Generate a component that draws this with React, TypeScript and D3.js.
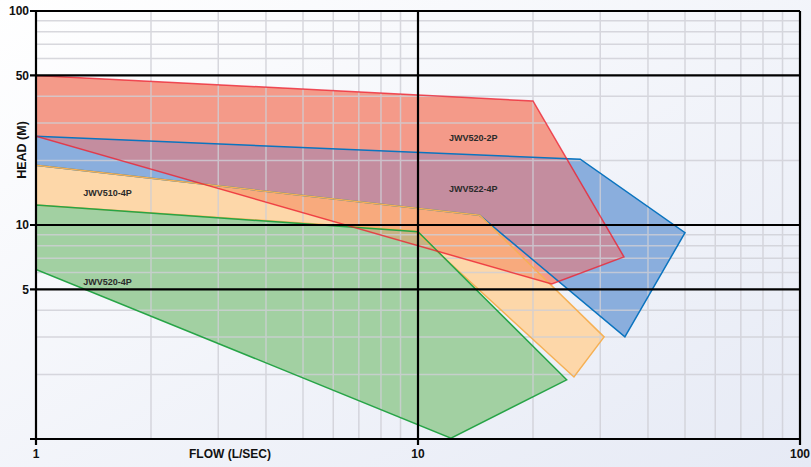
import React from "react";
import { scaleLog, line } from "d3";

// Curvas de bombas: [caudal L/s, altura m]
const jwv520_2p: [number, number][] = [
  [1, 50], [20, 38], [34.6, 7.1], [22.4, 5.3], [1, 26],
];
const jwv522_4p: [number, number][] = [
  [1, 26], [26.6, 20.3], [50, 9.2], [34.8, 3.0], [14.5, 11.1], [1, 19],
];
const jwv510_4p: [number, number][] = [
  [1, 19], [14.5, 11.1], [30.7, 3.0], [25.6, 1.95], [9.8, 9.4], [1, 12.4],
];
const jwv520_4p: [number, number][] = [
  [1, 12.4], [10, 9.3], [24.5, 1.89], [12.2, 1.01], [1, 6.2],
];

// Etiquetas de cada curva (posición en unidades de datos)
const seriesLabels: { name: string; flow: number; head: number }[] = [
  { name: "JWV520-2P", flow: 12.05, head: 25.5 },
  { name: "JWV522-4P", flow: 12.05, head: 14.8 },
  { name: "JWV510-4P", flow: 1.33, head: 14.2 },
  { name: "JWV520-4P", flow: 1.33, head: 5.4 },
];

const flowTicks = [1, 10, 100];
const headTicks = [100, 50, 10, 5];
const headMajor = [1, 5, 10, 50, 100];
const minorSteps = [2, 3, 4, 5, 6, 7, 8, 9];

export default function App() {
  const width = 811;
  const height = 467;
  const margin = { top: 11, right: 11, bottom: 28, left: 36 };

  const x = scaleLog()
    .domain([1, 100])
    .range([margin.left, width - margin.right]);
  const y = scaleLog()
    .domain([1, 100])
    .range([height - margin.bottom, margin.top]);

  const path = line<[number, number]>()
    .x((d) => x(d[0]))
    .y((d) => y(d[1]));
  const shape = (pts: [number, number][]) => (path(pts) ?? "") + "Z";

  const minor = [1, 10].flatMap((dec) => minorSteps.map((s) => s * dec));
  const x0 = x(1);
  const x1 = x(100);
  const y0 = y(1);
  const y1 = y(100);
  const font = "'Liberation Sans', Arial, Helvetica, sans-serif";

  return (
    <svg
      width={width}
      height={height}
      style={{ position: "absolute", left: 0, top: 0 }}
    >
      <defs>
        <linearGradient id="bg" x1="0" y1="0" x2="1" y2="1">
          <stop offset="0%" stopColor="#ffffff" />
          <stop offset="100%" stopColor="#e6eaf5" />
        </linearGradient>
        <clipPath id="clip-blue">
          <path d={shape(jwv522_4p)} />
        </clipPath>
        <clipPath id="clip-orange">
          <path d={shape(jwv510_4p)} />
        </clipPath>
        <clipPath id="clip-green">
          <path d={shape(jwv520_4p)} />
        </clipPath>
      </defs>
      <rect x={0} y={0} width={width} height={height} fill="url(#bg)" />

      {/* Rellenos */}
      <path d={shape(jwv522_4p)} fill="#8aaedd" />
      <path d={shape(jwv510_4p)} fill="#fdd7a9" />
      <path d={shape(jwv520_4p)} fill="#a2d0a2" />
      <path d={shape(jwv520_2p)} fill="#f49a89" />
      {/* Solapes con la curva roja */}
      <path d={shape(jwv520_2p)} fill="#c48d9f" clipPath="url(#clip-blue)" />
      <path d={shape(jwv520_2p)} fill="#f8aa7d" clipPath="url(#clip-orange)" />
      <path d={shape(jwv520_2p)} fill="#c6b383" clipPath="url(#clip-green)" />

      {/* Rejilla menor */}
      <g stroke="#cfcfd6" strokeWidth={1.5} opacity={0.8}>
        {minor.map((v) => (
          <line key={`vx-${v}`} x1={x(v)} x2={x(v)} y1={y1} y2={y0} />
        ))}
        {minor
          .filter((v) => !headMajor.includes(v))
          .map((v) => (
            <line key={`hy-${v}`} x1={x0} x2={x1} y1={y(v)} y2={y(v)} />
          ))}
      </g>

      {/* Contornos */}
      <path d={shape(jwv522_4p)} fill="none" stroke="#0b74bf" strokeWidth={1.5} />
      <path d={shape(jwv510_4p)} fill="none" stroke="#f5b055" strokeWidth={1.5} />
      <path d={shape(jwv520_4p)} fill="none" stroke="#27a447" strokeWidth={1.5} />
      <path
        d={shape(jwv520_2p)}
        fill="none"
        stroke="#ec1c2e"
        strokeOpacity={0.75}
        strokeWidth={1.5}
      />

      {/* Líneas principales */}
      <g stroke="#000" strokeWidth={2.2}>
        {headMajor.map((v) => (
          <line key={`my-${v}`} x1={x0 - 6} x2={x1} y1={y(v)} y2={y(v)} />
        ))}
        {flowTicks.map((v) => (
          <line key={`mx-${v}`} x1={x(v)} x2={x(v)} y1={y1} y2={y0 + 6} />
        ))}
      </g>

      {/* Etiquetas de ejes */}
      <g fontFamily={font} fontWeight="bold" fontSize={12} fill="#111">
        {headTicks.map((v) => (
          <text key={`ty-${v}`} x={x0 - 7} y={y(v)} dy="0.36em" textAnchor="end">
            {v}
          </text>
        ))}
        {flowTicks.map((v) => (
          <text key={`tx-${v}`} x={x(v)} y={y0 + 19} textAnchor="middle">
            {v}
          </text>
        ))}
        <text x={230} y={y0 + 19} textAnchor="middle">
          FLOW (L/SEC)
        </text>
        <text
          transform={`translate(26, 150) rotate(-90)`}
          textAnchor="middle"
          fontSize={12.5}
        >
          HEAD (M)
        </text>
      </g>

      {/* Nombres de las curvas */}
      <g fontFamily={font} fontWeight="bold" fontSize={9} fill="#2a2a2a">
        {seriesLabels.map((d) => (
          <text key={d.name} x={x(d.flow)} y={y(d.head)} dy="0.35em">
            {d.name}
          </text>
        ))}
      </g>
    </svg>
  );
}
